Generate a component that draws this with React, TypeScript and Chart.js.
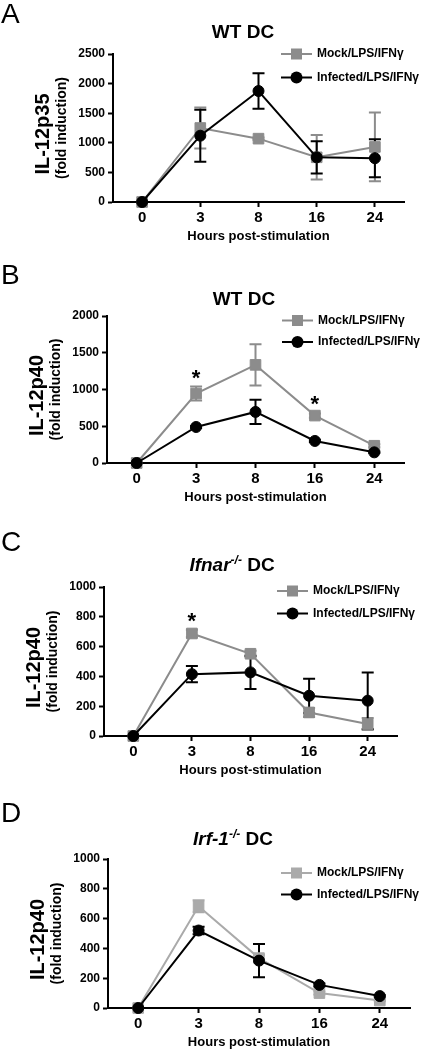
import React, { useEffect, useRef } from 'react';
import { Chart, registerables } from 'chart.js';

Chart.register(...registerables);

// ---------- data ----------
const HOURS = ['0', '3', '8', '16', '24'];
const SERIES_LABELS = ['Mock/LPS/IFNγ', 'Infected/LPS/IFNγ'];
const X_TITLE = 'Hours post-stimulation';
const Y_SUB = '(fold induction)';

// Panel A: WT DC, IL-12p35
const A_MOCK = [0, 1250, 1070, 755, 930];
const A_MOCK_SEM = [0, 345, 20, 375, 580];
const A_INF = [0, 1120, 1875, 755, 740];
const A_INF_SEM = [0, 440, 298, 272, 320];
const A_STARS: number[] = [];

// Panel B: WT DC, IL-12p40
const B_MOCK = [0, 945, 1335, 645, 235];
const B_MOCK_SEM = [0, 95, 280, 30, 20];
const B_INF = [0, 490, 695, 300, 145];
const B_INF_SEM = [0, 15, 165, 15, 10];
const B_STARS = [1, 3];

// Panel C: Ifnar-/- DC, IL-12p40
const C_MOCK = [0, 688, 552, 158, 80];
const C_MOCK_SEM = [0, 25, 20, 30, 40];
const C_INF = [0, 415, 427, 270, 237];
const C_INF_SEM = [0, 55, 111, 115, 190];
const C_STARS = [1];

// Panel D: Irf-1-/- DC, IL-12p40
const D_MOCK = [0, 683, 335, 100, 50];
const D_MOCK_SEM = [0, 40, 20, 10, 5];
const D_INF = [0, 520, 318, 155, 80];
const D_INF_SEM = [0, 25, 112, 10, 5];
const D_STARS: number[] = [];

// ---------- styling / layout ----------
const FONT = '"Liberation Sans", Arial, Helvetica, sans-serif';
const GRAY = '#8c8c8c';
const LIGHT_GRAY = '#aaaaaa';
const W = 426;
const XH = 42;

type Part = { t: string; italic?: boolean; sup?: boolean };

interface Panel {
  letter: string;
  title: Part[];
  yLabel: string;
  mock: number[];
  mockSem: number[];
  inf: number[];
  infSem: number[];
  stars: number[];
  yMax: number;
  yStep: number;
  mockColor: string;
  top: number;
  height: number;
  area: { l: number; r: number; t: number; b: number };
  titleX: number;
  titleY: number;
  legX: number;
  legY: number[];
  letterY: number;
}

const PANELS: Panel[] = [
  {
    letter: 'A', title: [{ t: 'WT DC' }], yLabel: 'IL-12p35',
    mock: A_MOCK, mockSem: A_MOCK_SEM, inf: A_INF, infSem: A_INF_SEM, stars: A_STARS,
    yMax: 2500, yStep: 500, mockColor: GRAY,
    top: 0, height: 250, area: { l: 113, r: 404, t: 54, b: 202 },
    titleX: 243, titleY: 38, legX: 281, legY: [54, 77.5], letterY: 23,
  },
  {
    letter: 'B', title: [{ t: 'WT DC' }], yLabel: 'IL-12p40',
    mock: B_MOCK, mockSem: B_MOCK_SEM, inf: B_INF, infSem: B_INF_SEM, stars: B_STARS,
    yMax: 2000, yStep: 500, mockColor: GRAY,
    top: 250, height: 265, area: { l: 107, r: 404, t: 316, b: 463 },
    titleX: 244, titleY: 305, legX: 282, legY: [320.5, 342], letterY: 284,
  },
  {
    letter: 'C', title: [{ t: 'Ifnar', italic: true }, { t: '-/-', italic: true, sup: true }, { t: ' DC' }], yLabel: 'IL-12p40',
    mock: C_MOCK, mockSem: C_MOCK_SEM, inf: C_INF, infSem: C_INF_SEM, stars: C_STARS,
    yMax: 1000, yStep: 200, mockColor: GRAY,
    top: 515, height: 270, area: { l: 104, r: 397, t: 587, b: 736 },
    titleX: 232, titleY: 571, legX: 277, legY: [591, 613.5], letterY: 551,
  },
  {
    letter: 'D', title: [{ t: 'Irf-1', italic: true }, { t: '-/-', italic: true, sup: true }, { t: ' DC' }], yLabel: 'IL-12p40',
    mock: D_MOCK, mockSem: D_MOCK_SEM, inf: D_INF, infSem: D_INF_SEM, stars: D_STARS,
    yMax: 1000, yStep: 200, mockColor: LIGHT_GRAY,
    top: 785, height: 265, area: { l: 108, r: 410, t: 859, b: 1008 },
    titleX: 233, titleY: 845, legX: 281, legY: [873, 894.5], letterY: 822,
  },
];

function decorPlugin(p: Panel) {
  return {
    id: 'decor' + p.letter,
    beforeDatasetsDraw(chart: any) {
      const ctx = chart.ctx as CanvasRenderingContext2D;
      const xs = chart.scales.x;
      const ys = chart.scales.y;
      chart.data.datasets.forEach((ds: any) => {
        const sem: number[] = ds.sem || [];
        ctx.save();
        ctx.strokeStyle = ds.borderColor;
        ctx.lineWidth = 2;
        ds.data.forEach((v: number, i: number) => {
          const s = sem[i];
          if (!s) return;
          const px = xs.getPixelForValue(i);
          const hi = ys.getPixelForValue(v + s);
          const lo = ys.getPixelForValue(Math.max(0, v - s));
          ctx.beginPath();
          ctx.moveTo(px, hi);
          ctx.lineTo(px, lo);
          ctx.moveTo(px - 6, hi);
          ctx.lineTo(px + 6, hi);
          ctx.moveTo(px - 6, lo);
          ctx.lineTo(px + 6, lo);
          ctx.stroke();
        });
        ctx.restore();
      });
    },
    afterDraw(chart: any) {
      const ctx = chart.ctx as CanvasRenderingContext2D;
      const ys = chart.scales.y;
      const xs = chart.scales.x;
      const off = p.top;
      ctx.save();
      ctx.fillStyle = '#000';

      // panel letter
      ctx.font = `28px ${FONT}`;
      ctx.textAlign = 'left';
      ctx.textBaseline = 'alphabetic';
      ctx.fillText(p.letter, 1, p.letterY - off);

      // title
      const fontFor = (pt: Part) => `${pt.italic ? 'italic ' : ''}bold ${pt.sup ? 12 : 19}px ${FONT}`;
      let total = 0;
      p.title.forEach((pt) => { ctx.font = fontFor(pt); total += ctx.measureText(pt.t).width; });
      let tx = p.titleX - total / 2;
      p.title.forEach((pt) => {
        ctx.font = fontFor(pt);
        ctx.fillText(pt.t, tx, p.titleY - off - (pt.sup ? 7 : 0));
        tx += ctx.measureText(pt.t).width;
      });

      // legend
      chart.data.datasets.forEach((ds: any, i: number) => {
        const ly = p.legY[i] - off;
        const lx = p.legX;
        ctx.strokeStyle = ds.borderColor;
        ctx.fillStyle = ds.backgroundColor;
        ctx.lineWidth = 2;
        ctx.beginPath();
        ctx.moveTo(lx, ly);
        ctx.lineTo(lx + 31, ly);
        ctx.stroke();
        const cx = lx + 15.5;
        if (ds.pointStyle === 'rect') {
          ctx.fillRect(cx - 5.5, ly - 5.5, 11, 11);
        } else {
          ctx.beginPath();
          ctx.arc(cx, ly, 6, 0, Math.PI * 2);
          ctx.fill();
        }
        ctx.fillStyle = '#000';
        ctx.font = `bold 12px ${FONT}`;
        ctx.textBaseline = 'middle';
        ctx.fillText(ds.label, lx + 36, ly);
      });

      // y axis label
      const cy = (p.area.t + p.area.b) / 2 - off;
      ctx.textAlign = 'center';
      ctx.textBaseline = 'middle';
      ctx.save();
      ctx.translate(p.area.l - 70, cy + 6);
      ctx.rotate(-Math.PI / 2);
      ctx.font = `bold 20px ${FONT}`;
      ctx.fillText(p.yLabel, 0, 0);
      ctx.restore();
      ctx.save();
      ctx.translate(p.area.l - 51, cy);
      ctx.rotate(-Math.PI / 2);
      ctx.font = `bold 14px ${FONT}`;
      ctx.fillText(Y_SUB, 0, 0);
      ctx.restore();

      // significance stars
      ctx.font = `bold 22px ${FONT}`;
      p.stars.forEach((i) => {
        const px = xs.getPixelForValue(i);
        const py = ys.getPixelForValue(p.mock[i] + p.mockSem[i]) - 8;
        ctx.fillText('*', px, py);
      });
      ctx.restore();
    },
  };
}

function PanelChart({ p }: { p: Panel }) {
  const ref = useRef<HTMLCanvasElement>(null);
  useEffect(() => {
    const canvas = ref.current!;
    const aT = p.area.t - p.top;
    const aB = p.area.b - p.top;
    const chart = new Chart(canvas, {
      type: 'line',
      data: {
        labels: HOURS,
        datasets: [
          {
            label: SERIES_LABELS[0], data: p.mock, sem: p.mockSem,
            borderColor: p.mockColor, backgroundColor: p.mockColor,
            pointStyle: 'rect', pointRadius: 7.5, pointBorderWidth: 1,
            pointBorderColor: p.mockColor, pointBackgroundColor: p.mockColor,
            borderWidth: 2, order: 1, clip: false, tension: 0,
          },
          {
            label: SERIES_LABELS[1], data: p.inf, sem: p.infSem,
            borderColor: '#000', backgroundColor: '#000',
            pointStyle: 'circle', pointRadius: 5.5, pointBorderWidth: 1,
            pointBorderColor: '#000', pointBackgroundColor: '#000',
            borderWidth: 2, order: 0, clip: false, tension: 0,
          },
        ] as any,
      },
      options: {
        responsive: false,
        animation: false,
        devicePixelRatio: 1,
        events: [],
        layout: { padding: { left: 0, right: W - p.area.r, top: aT, bottom: p.height - aB - XH } },
        plugins: { legend: { display: false }, tooltip: { enabled: false }, title: { display: false } },
        scales: {
          x: {
            type: 'category',
            offset: true,
            grid: { display: true, drawOnChartArea: false, drawTicks: true, tickLength: 5, tickWidth: 2, color: '#000', tickColor: '#000', offset: false },
            border: { display: true, color: '#000', width: 2 },
            ticks: { color: '#000', font: { family: FONT, size: 15, weight: 'bold' }, padding: 2, maxRotation: 0, autoSkip: false },
            title: { display: true, text: X_TITLE, color: '#000', font: { family: FONT, size: 13, weight: 'bold' }, padding: 0 },
            afterFit: (s: any) => { s.height = XH; },
          },
          y: {
            type: 'linear',
            min: 0,
            max: p.yMax,
            ticks: {
              stepSize: p.yStep, color: '#000', padding: 3,
              font: { family: FONT, size: 12, weight: 'bold' },
              callback: (v: any) => String(v),
            },
            grid: { display: true, drawOnChartArea: false, drawTicks: true, tickLength: 5, tickWidth: 2, color: '#000', tickColor: '#000' },
            border: { display: true, color: '#000', width: 2 },
            afterFit: (s: any) => { s.width = p.area.l; },
          },
        },
      } as any,
      plugins: [decorPlugin(p)],
    });
    return () => chart.destroy();
  }, [p]);
  return (
    <canvas
      ref={ref}
      width={W}
      height={p.height}
      style={{ position: 'absolute', left: 0, top: p.top, width: W, height: p.height, display: 'block' }}
    />
  );
}

export default function App() {
  return (
    <div style={{ position: 'absolute', left: 0, top: 0, width: W, height: 1050, background: '#fff' }}>
      {PANELS.map((p) => (
        <PanelChart key={p.letter} p={p} />
      ))}
    </div>
  );
}
